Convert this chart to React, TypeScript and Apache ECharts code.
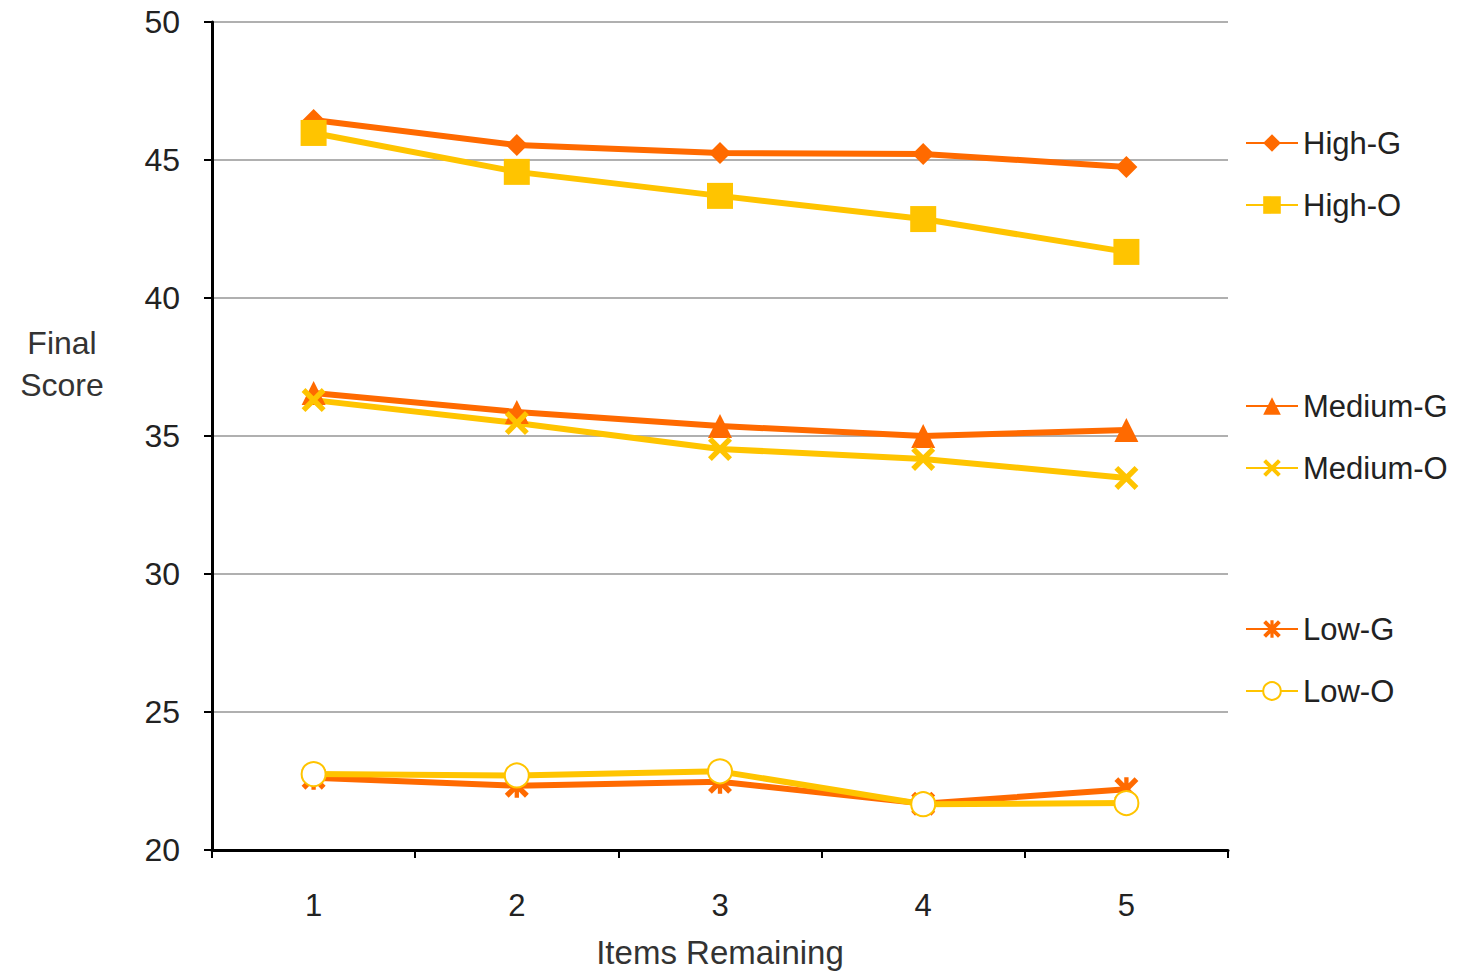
import React, { useEffect, useRef } from "react";
import * as echarts from "echarts";

const categories = ["1", "2", "3", "4", "5"];
const yTicks = { min: 20, max: 50, interval: 5 };

const highG = [46.45, 45.54, 45.25, 45.22, 44.75];
const highO = [45.98, 44.57, 43.7, 42.86, 41.67];
const mediumG = [36.56, 35.87, 35.36, 35.0, 35.22];
const mediumO = [36.3, 35.47, 34.53, 34.17, 33.48];
const lowG = [22.62, 22.33, 22.47, 21.68, 22.2];
const lowO = [22.75, 22.7, 22.85, 21.66, 21.7];

const ORANGE = "#FF6A00";
const YELLOW = "#FFC400";
const FONT = "Liberation Sans";

const crossPath =
  "path://M0,1.6L1.6,0L5,3.4L8.4,0L10,1.6L6.6,5L10,8.4L8.4,10L5,6.6L1.6,10L0,8.4L3.4,5Z";
const asteriskPath =
  "path://M0,1.6L1.6,0L5,3.4L8.4,0L10,1.6L6.6,5L10,8.4L8.4,10L5,6.6L1.6,10L0,8.4L3.4,5Z M4.1,0L5.9,0L5.9,10L4.1,10Z";

export default function App() {
  const ref = useRef<HTMLDivElement>(null);

  useEffect(() => {
    if (!ref.current) return;
    const chart = echarts.init(ref.current, undefined, { renderer: "svg" });

    const mk = (
      name: string,
      data: number[],
      color: string,
      symbol: string,
      size: number,
      extra: any = {}
    ) => ({
      name,
      type: "line",
      data,
      symbol,
      symbolSize: size,
      lineStyle: { color, width: 6 },
      itemStyle: { color, ...extra },
      emphasis: { disabled: true },
    });

    const legendBase = {
      orient: "vertical",
      left: 1240,
      itemWidth: 52,
      itemHeight: 22,
      itemGap: 30,
      textStyle: { fontFamily: FONT, fontSize: 31, color: "#222", lineHeight: 32 },
      selectedMode: false,
    };

    chart.setOption({
      animation: false,
      backgroundColor: "#ffffff",
      grid: {
        left: 212,
        right: 246,
        top: 22,
        bottom: 125,
        containLabel: false,
        outerBoundsMode: "none",
      },
      legend: [
        { ...legendBase, top: 122, data: ["High-G", "High-O"] },
        { ...legendBase, top: 385, data: ["Medium-G", "Medium-O"] },
        { ...legendBase, top: 608, data: ["Low-G", "Low-O"] },
      ],
      graphic: [
        {
          type: "text",
          x: 62,
          y: 322,
          style: {
            text: "Final\nScore",
            fontFamily: FONT,
            fontSize: 32,
            fill: "#333",
            lineHeight: 42,
            align: "center",
            verticalAlign: "top",
          },
        },
      ],
      xAxis: {
        type: "category",
        data: categories,
        boundaryGap: true,
        name: "Items Remaining",
        nameLocation: "middle",
        nameGap: 86,
        nameTextStyle: { fontFamily: FONT, fontSize: 33, color: "#333" },
        axisLine: { show: true, lineStyle: { color: "#000", width: 3 } },
        axisTick: { show: true, length: 8, lineStyle: { color: "#000", width: 2 } },
        axisLabel: { fontFamily: FONT, fontSize: 31, color: "#222", margin: 40 },
        splitLine: { show: false },
      },
      yAxis: {
        type: "value",
        min: yTicks.min,
        max: yTicks.max,
        interval: yTicks.interval,
        axisLine: { show: true, lineStyle: { color: "#000", width: 3 } },
        axisTick: { show: true, length: 8, lineStyle: { color: "#000", width: 2 } },
        axisLabel: { fontFamily: FONT, fontSize: 32, color: "#222", margin: 32 },
        splitLine: { show: true, lineStyle: { color: "#b0b0b0", width: 2 } },
      },
      series: [
        mk("High-G", highG, ORANGE, "diamond", 22),
        mk("High-O", highO, YELLOW, "rect", 26),
        mk("Medium-G", mediumG, ORANGE, "triangle", 24),
        mk("Medium-O", mediumO, YELLOW, crossPath, 24),
        mk("Low-G", lowG, ORANGE, asteriskPath, 24),
        mk("Low-O", lowO, YELLOW, "emptyCircle", 24, { borderColor: YELLOW, borderWidth: 4 }),
      ],
    });

    return () => chart.dispose();
  }, []);

  return (
    <div
      ref={ref}
      style={{ position: "fixed", left: 0, top: 0, width: 1474, height: 975 }}
    />
  );
}
